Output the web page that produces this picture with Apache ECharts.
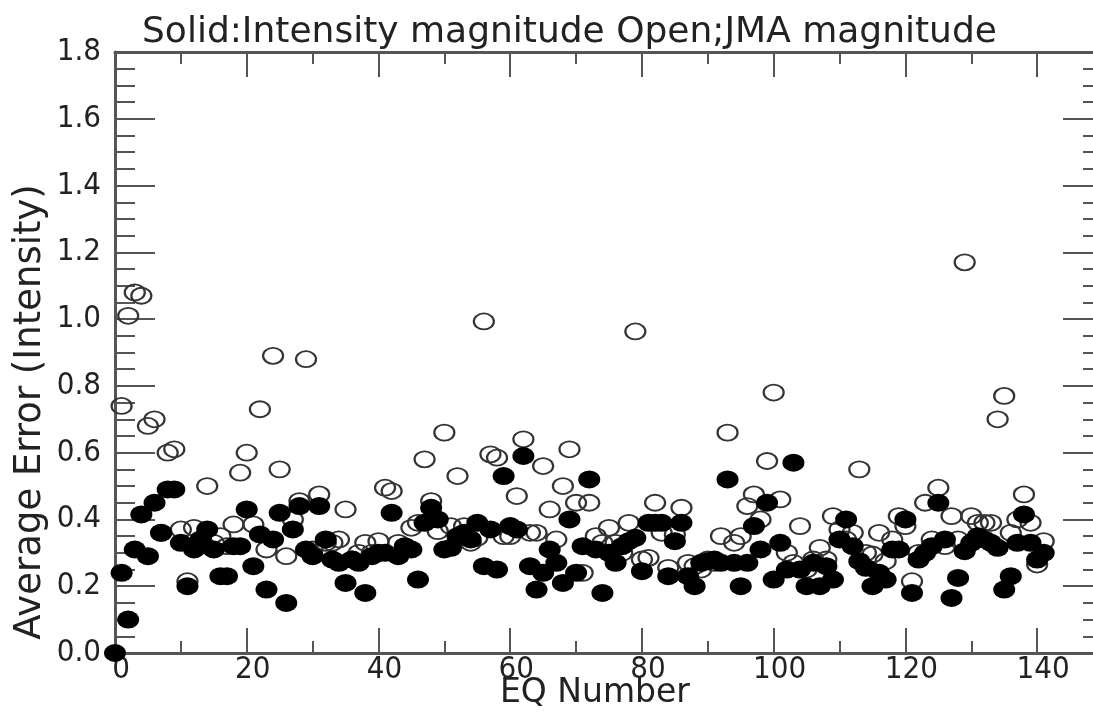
<!DOCTYPE html>
<html>
<head>
<meta charset="utf-8">
<script src="https://cdn.jsdelivr.net/npm/echarts@6/dist/echarts.min.js"></script>
<style>html,body{margin:0;padding:0;background:#fff;overflow:hidden;width:1093px;height:717px}#c{width:1113px;height:717px}</style>
</head>
<body>
<div id="c"></div>
<script>
const titleText = 'Solid:Intensity magnitude Open;JMA magnitude';
const xName = 'EQ Number';
const yName = 'Average Error (Intensity)';

// Solid: Intensity magnitude  [EQ number, average error]
const solidPoints = [
  [0,0.00],[1,0.24],[2,0.10],[3,0.31],[4,0.415],[5,0.29],[6,0.45],[7,0.36],[8,0.49],[9,0.49],
  [10,0.33],[11,0.20],[12,0.31],[13,0.34],[14,0.37],[15,0.31],[16,0.23],[17,0.23],[18,0.32],[19,0.32],
  [20,0.43],[21,0.26],[22,0.355],[23,0.19],[24,0.34],[25,0.42],[26,0.15],[27,0.37],[28,0.44],[29,0.31],
  [30,0.29],[31,0.44],[32,0.34],[33,0.28],[34,0.27],[35,0.21],[36,0.28],[37,0.27],[38,0.18],[39,0.29],
  [40,0.30],[41,0.30],[42,0.42],[43,0.29],[44,0.32],[45,0.31],[46,0.22],[47,0.39],[48,0.435],[49,0.40],
  [50,0.31],[51,0.315],[52,0.35],[53,0.36],[54,0.34],[55,0.39],[56,0.26],[57,0.37],[58,0.25],[59,0.53],
  [60,0.38],[61,0.37],[62,0.59],[63,0.26],[64,0.19],[65,0.24],[66,0.31],[67,0.27],[68,0.21],[69,0.40],
  [70,0.24],[71,0.32],[72,0.52],[73,0.31],[74,0.18],[75,0.30],[76,0.27],[77,0.32],[78,0.335],[79,0.345],
  [80,0.245],[81,0.39],[82,0.39],[83,0.39],[84,0.23],[85,0.335],[86,0.39],[87,0.23],[88,0.20],[89,0.27],
  [90,0.275],[91,0.28],[92,0.27],[93,0.52],[94,0.27],[95,0.20],[96,0.27],[97,0.38],[98,0.31],[99,0.45],
  [100,0.22],[101,0.33],[102,0.25],[103,0.57],[104,0.25],[105,0.20],[106,0.27],[107,0.20],[108,0.26],[109,0.22],
  [110,0.34],[111,0.40],[112,0.32],[113,0.275],[114,0.255],[115,0.20],[116,0.24],[117,0.22],[118,0.31],[119,0.31],
  [120,0.40],[121,0.18],[122,0.28],[123,0.30],[124,0.32],[125,0.45],[126,0.34],[127,0.165],[128,0.225],[129,0.305],
  [130,0.33],[131,0.35],[132,0.34],[133,0.33],[134,0.315],[135,0.19],[136,0.23],[137,0.33],[138,0.415],[139,0.33],
  [140,0.28],[141,0.30]
];

// Open: JMA magnitude  [EQ number, average error]
const openPoints = [
  [1,0.74],[2,1.01],[3,1.08],[4,1.07],[5,0.68],[6,0.70],[7,0.36],[8,0.60],[9,0.61],
  [10,0.37],[11,0.215],[12,0.375],[13,0.33],[14,0.50],[15,0.33],[16,0.35],[17,0.32],[18,0.385],[19,0.54],
  [20,0.60],[21,0.385],[22,0.73],[23,0.31],[24,0.89],[25,0.55],[26,0.29],[27,0.40],[28,0.455],[29,0.88],
  [30,0.31],[31,0.475],[32,0.33],[33,0.33],[34,0.34],[35,0.43],[36,0.28],[37,0.30],[38,0.33],[39,0.30],
  [40,0.335],[41,0.495],[42,0.485],[43,0.33],[44,0.31],[45,0.375],[46,0.39],[47,0.58],[48,0.455],[49,0.365],
  [50,0.66],[51,0.38],[52,0.53],[53,0.38],[54,0.33],[55,0.345],[56,0.993],[57,0.595],[58,0.585],[59,0.35],
  [60,0.35],[61,0.47],[62,0.64],[63,0.36],[64,0.36],[65,0.56],[66,0.43],[67,0.34],[68,0.50],[69,0.61],
  [70,0.45],[71,0.24],[72,0.45],[73,0.35],[74,0.33],[75,0.375],[76,0.33],[77,0.30],[78,0.39],[79,0.963],
  [80,0.28],[81,0.285],[82,0.45],[83,0.36],[84,0.255],[85,0.355],[86,0.435],[87,0.27],[88,0.26],[89,0.25],
  [90,0.28],[91,0.27],[92,0.35],[93,0.66],[94,0.33],[95,0.35],[96,0.44],[97,0.475],[98,0.40],[99,0.575],
  [100,0.78],[101,0.46],[102,0.30],[103,0.27],[104,0.38],[105,0.25],[106,0.28],[107,0.315],[108,0.28],[109,0.41],
  [110,0.37],[111,0.34],[112,0.36],[113,0.55],[114,0.30],[115,0.295],[116,0.36],[117,0.275],[118,0.34],[119,0.41],
  [120,0.38],[121,0.215],[122,0.30],[123,0.45],[124,0.34],[125,0.495],[126,0.32],[127,0.41],[128,0.34],[129,1.17],
  [130,0.41],[131,0.39],[132,0.39],[133,0.39],[134,0.70],[135,0.77],[136,0.36],[137,0.40],[138,0.475],[139,0.39],
  [140,0.265],[141,0.335]
];

const FONT = '"DejaVu Sans Condensed", "Liberation Sans Narrow", "Liberation Sans", sans-serif';
const WIDE = '"DejaVu Sans", "Liberation Sans", sans-serif';
const axisColor = '#555';

const chart = echarts.init(document.getElementById('c'), null, {renderer: 'canvas'});

function xAx(pos, labels) {
  return {
    type: 'value', position: pos, min: 0, max: 150, interval: 20,
    axisLine: {show: true, onZero: false, lineStyle: {color: axisColor, width: 3}},
    axisTick: {show: true, inside: true, length: 25, lineStyle: {color: axisColor, width: 2}},
    minorTick: {show: true, splitNumber: 2, length: 12, lineStyle: {color: axisColor, width: 2}},
    splitLine: {show: false},
    axisLabel: {show: labels, showMaxLabel: false, margin: 1, color: '#222', fontSize: 31, fontFamily: FONT, padding: [0,0,0,12]}
  };
}
function yAx(pos, labels) {
  return {
    type: 'value', position: pos, min: 0, max: 1.8, interval: 0.2,
    axisLine: {show: true, onZero: false, lineStyle: {color: axisColor, width: 3}},
    axisTick: {show: true, inside: true, length: 40, lineStyle: {color: axisColor, width: 2}},
    minorTick: {show: true, splitNumber: 4, length: 20, lineStyle: {color: axisColor, width: 2}},
    splitLine: {show: false},
    axisLabel: {show: labels, margin: 14, color: '#222', fontSize: 31, fontFamily: FONT,
      formatter: v => v.toFixed(1)}
  };
}

chart.setOption({
  animation: false,
  backgroundColor: '#fff',
  title: {text: titleText, left: 137, top: 10,
    textStyle: {fontSize: 36, fontWeight: 'normal', color: '#222', fontFamily: WIDE}},
  grid: {left: 115, top: 52, right: 10, bottom: 64, containLabel: false},
  xAxis: [xAx('bottom', true), xAx('top', false)],
  yAxis: [yAx('left', true), yAx('right', false)],
  graphic: [
    {type: 'text', left: 500, top: 677, style: {text: xName, fontSize: 33, fontFamily: WIDE, fill: '#222'}},
    {type: 'text', x: 12, y: 412, rotation: Math.PI / 2,
      style: {text: yName, fontSize: 37, fontFamily: WIDE, fill: '#222', align: 'center', verticalAlign: 'top'}}
  ],
  series: [
    {type: 'scatter', name: 'JMA magnitude', data: openPoints, clip: false,
      symbol: 'circle', symbolSize: [20, 16],
      itemStyle: {color: 'rgba(255,255,255,0)', borderColor: '#333', borderWidth: 2, opacity: 1}},
    {type: 'scatter', name: 'Intensity magnitude', data: solidPoints, clip: false,
      symbol: 'circle', symbolSize: [22, 18],
      itemStyle: {color: '#000', borderColor: '#000', borderWidth: 0, opacity: 1}}
  ]
});
</script>
</body>
</html>
